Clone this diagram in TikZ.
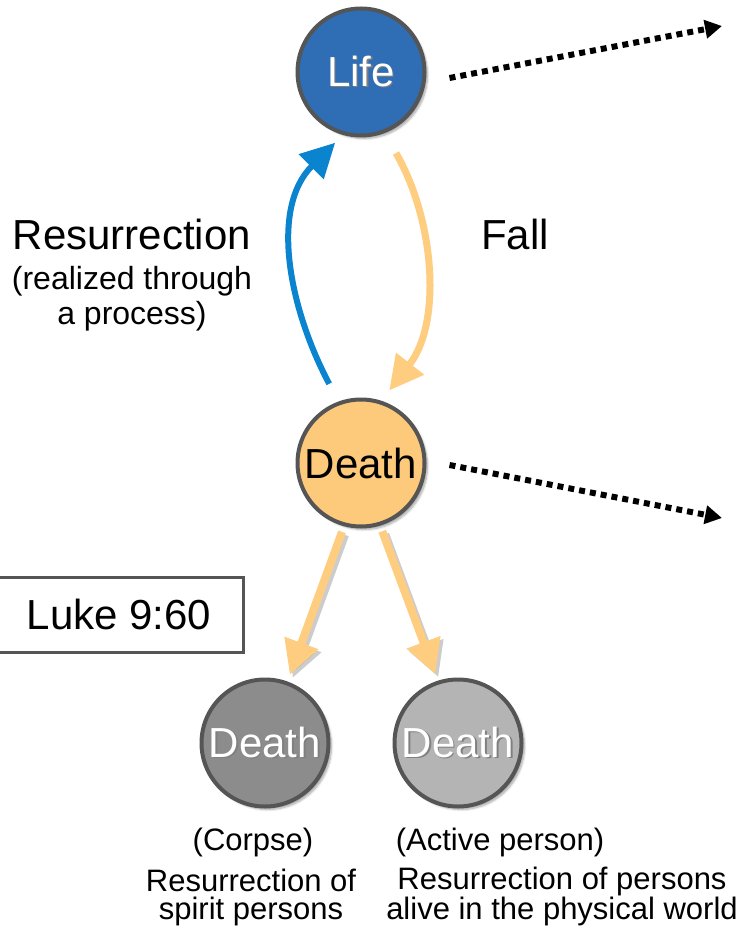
\documentclass[tikz,border=0pt]{standalone}
\usepackage{fontspec}
\setmainfont{Liberation Sans}
\usetikzlibrary{arrows.meta,shadows.blur,calc}
\definecolor{lifeblue}{HTML}{2F6DB5}
\definecolor{deathorange}{HTML}{FDC97A}
\definecolor{arrowblue}{HTML}{0A84CE}
\definecolor{arroworange}{HTML}{FECD80}
\definecolor{darkgrayfill}{HTML}{8C8C8C}
\definecolor{lightgrayfill}{HTML}{B4B4B4}
\definecolor{rimgray}{HTML}{555555}
\newcommand\shadowtxt[1]{\leavevmode\rlap{\kern1.5pt\raisebox{-1.5pt}{\textcolor{black!50}{#1}}}\textcolor{white}{#1}}
\begin{document}
\begin{tikzpicture}[x=1pt,y=1pt,
 circ/.style={circle, draw=rimgray, line width=4pt, minimum size=127pt, inner sep=0pt,
   font=\fontsize{42}{48}\selectfont,
   blur shadow={shadow xshift=3pt, shadow yshift=-3pt, shadow opacity=35, shadow blur steps=6}},
 big/.style={font=\fontsize{42}{48}\selectfont},
 small/.style={font=\fontsize{32}{35}\selectfont},
 tiny/.style={font=\fontsize{31}{27.5}\selectfont, align=center},
 thickarrow/.style={line width=7pt, -{Triangle[length=34pt,width=34pt]}},
 dotarrow/.style={line width=6pt, dash pattern=on 6pt off 5pt, -{Triangle[length=17pt,width=18pt]}},
 arrowshadow/.style={black, opacity=0.2, transform canvas={shift={(3pt,-3pt)}}}
]
\useasboundingbox (0,0) rectangle (746,-928);

% nodes
\node[circ, fill=lifeblue] (life) at (361,-72) {\raisebox{-3pt}{\shadowtxt{Life}}};
\node[circ, fill=deathorange] (death) at (361,-463) {Death};
\node[circ, fill=darkgrayfill] (dl) at (265,-743) {\shadowtxt{Death}};
\node[circ, fill=lightgrayfill] (dr) at (458,-743) {\shadowtxt{Death}};

\node[draw=rimgray, line width=3pt, minimum width=252pt, minimum height=75pt, inner sep=0pt, big] (luke) at (117,-614.5) {\hspace{4pt}Luke 9:60};

% curved arrows
\draw[thickarrow, arrowblue, line width=6pt, shorten <=20pt, shorten >=11pt]
  (death.110) to[out=118, in=225, looseness=1.0] (life.254);
\draw[thickarrow, arroworange, shorten <=23pt, shorten >=13pt]
  (life.291) to[out=300, in=52, looseness=0.95] (death.72);

% down arrows with shadows
\draw[thickarrow, arrowshadow, line width=8pt, shorten <=6pt, shorten >=7pt] (death.255) -- (dl.70);
\draw[thickarrow, arrowshadow, line width=8pt, shorten <=6pt, shorten >=7pt] (death.287) -- (dr.108);
\draw[thickarrow, arroworange, line width=8pt, shorten <=6pt, shorten >=7pt] (death.255) -- (dl.70);
\draw[thickarrow, arroworange, line width=8pt, shorten <=6pt, shorten >=7pt] (death.287) -- (dr.108);

% dotted arrows
\coordinate (e1) at (722,-26);
\coordinate (e2) at (722,-518);
\draw[dotarrow] ([shift={(23,-6)}]life.east) -- (e1);
\draw[dotarrow] ([shift={(23,-2)}]death.east) -- (e2);

% labels
\node[big, anchor=base] (restitle) at (132,-249) {Resurrection};
\node[small, anchor=base] (res1) at (132,-289) {(realized through};
\node[small, anchor=base] (res2) at (132,-324) {a process)};
\node[big, anchor=base] (fall) at (515,-249) {Fall};
\node[tiny, anchor=base] (c1) at (253,-850) {(Corpse)};
\node[tiny, anchor=base] (c2) at (251,-919) {Resurrection of\\spirit persons};
\node[tiny, anchor=base] (a1) at (500,-850) {(Active person)};
\node[tiny, anchor=base] (a2) at (562,-919) {Resurrection of persons\\alive in the physical world};
\end{tikzpicture}
\end{document}
